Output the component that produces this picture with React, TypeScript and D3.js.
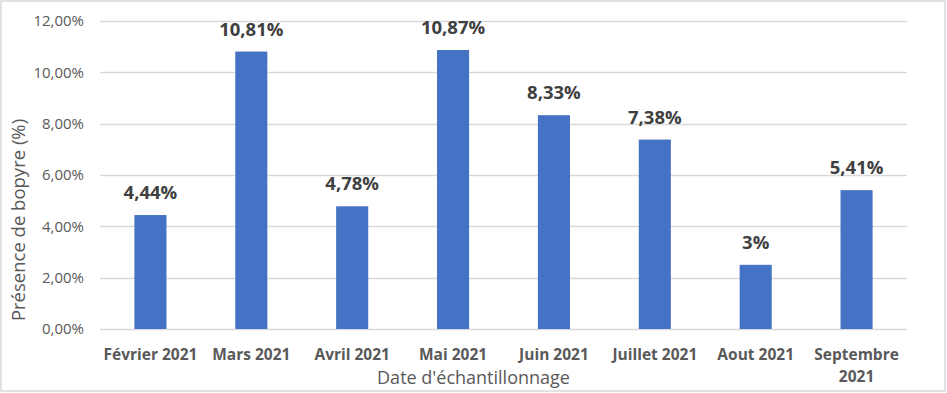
import React from "react";
import * as d3 from "d3";

const categories = ["Février 2021", "Mars 2021", "Avril 2021", "Mai 2021", "Juin 2021", "Juillet 2021", "Aout 2021", "Septembre 2021"];
const values = [4.44, 10.81, 4.78, 10.87, 8.33, 7.38, 2.5, 5.41];
const valueLabels = ["4,44%", "10,81%", "4,78%", "10,87%", "8,33%", "7,38%", "3%", "5,41%"];
const yTicks = [0, 2, 4, 6, 8, 10, 12];
const yTickLabels = ["0,00%", "2,00%", "4,00%", "6,00%", "8,00%", "10,00%", "12,00%"];
const xTitle = "Date d'échantillonnage";
const yTitle = "Présence de bopyre (%)";

const W = 947;
const H = 393;
const FONT = "'Open Sans', 'Noto Sans', sans-serif";

export default function App() {
  const x = d3.scaleBand<string>().domain(categories).range([100, 907]).padding(0);
  const y = d3.scaleLinear().domain([0, 12]).range([329, 21]);
  const bw = x.bandwidth() * 0.318;

  return (
    <svg width={W} height={H} style={{ position: "absolute", left: 0, top: 0 }} fontFamily={FONT}>
      <rect x={1} y={1} width={W - 3} height={H - 3} fill="#ffffff" stroke="#d9d9d9" strokeWidth={1.5} />
      {yTicks.map((t, i) => (
        <g key={t}>
          <line x1={100} x2={907} y1={Math.round(y(t)) + 0.5} y2={Math.round(y(t)) + 0.5} stroke="#d9d9d9" strokeWidth={1.3} />
          <text x={84} y={y(t)} dy="0.36em" textAnchor="end" fontSize={15} fill="#595959">
            {yTickLabels[i]}
          </text>
        </g>
      ))}
      {categories.map((c, i) => {
        const cx = (x(c) as number) + x.bandwidth() / 2;
        return (
          <g key={c}>
            <rect x={cx - bw / 2} y={y(values[i])} width={bw} height={y(0) - y(values[i])} fill="#4472c4" />
            <text x={cx} y={y(values[i]) - 16} textAnchor="middle" fontSize={18.5} fontWeight={700} fill="#404040">
              {valueLabels[i]}
            </text>
          </g>
        );
      })}
      {categories.map((c) => {
        const cx = (x(c) as number) + x.bandwidth() / 2;
        const parts = c === "Septembre 2021" ? ["Septembre", "2021"] : [c];
        return (
          <text key={c} x={cx} y={360} textAnchor="middle" fontSize={15.5} fontWeight={700} fill="#595959">
            {parts.map((p, j) => (
              <tspan key={j} x={cx} dy={j === 0 ? 0 : 22}>
                {p}
              </tspan>
            ))}
          </text>
        );
      })}
      <text x={473.5} y={384} textAnchor="middle" fontSize={18} fill="#595959">
        {xTitle}
      </text>
      <text transform={`translate(25,220) rotate(-90)`} textAnchor="middle" fontSize={18.5} fill="#595959">
        {yTitle}
      </text>
    </svg>
  );
}
